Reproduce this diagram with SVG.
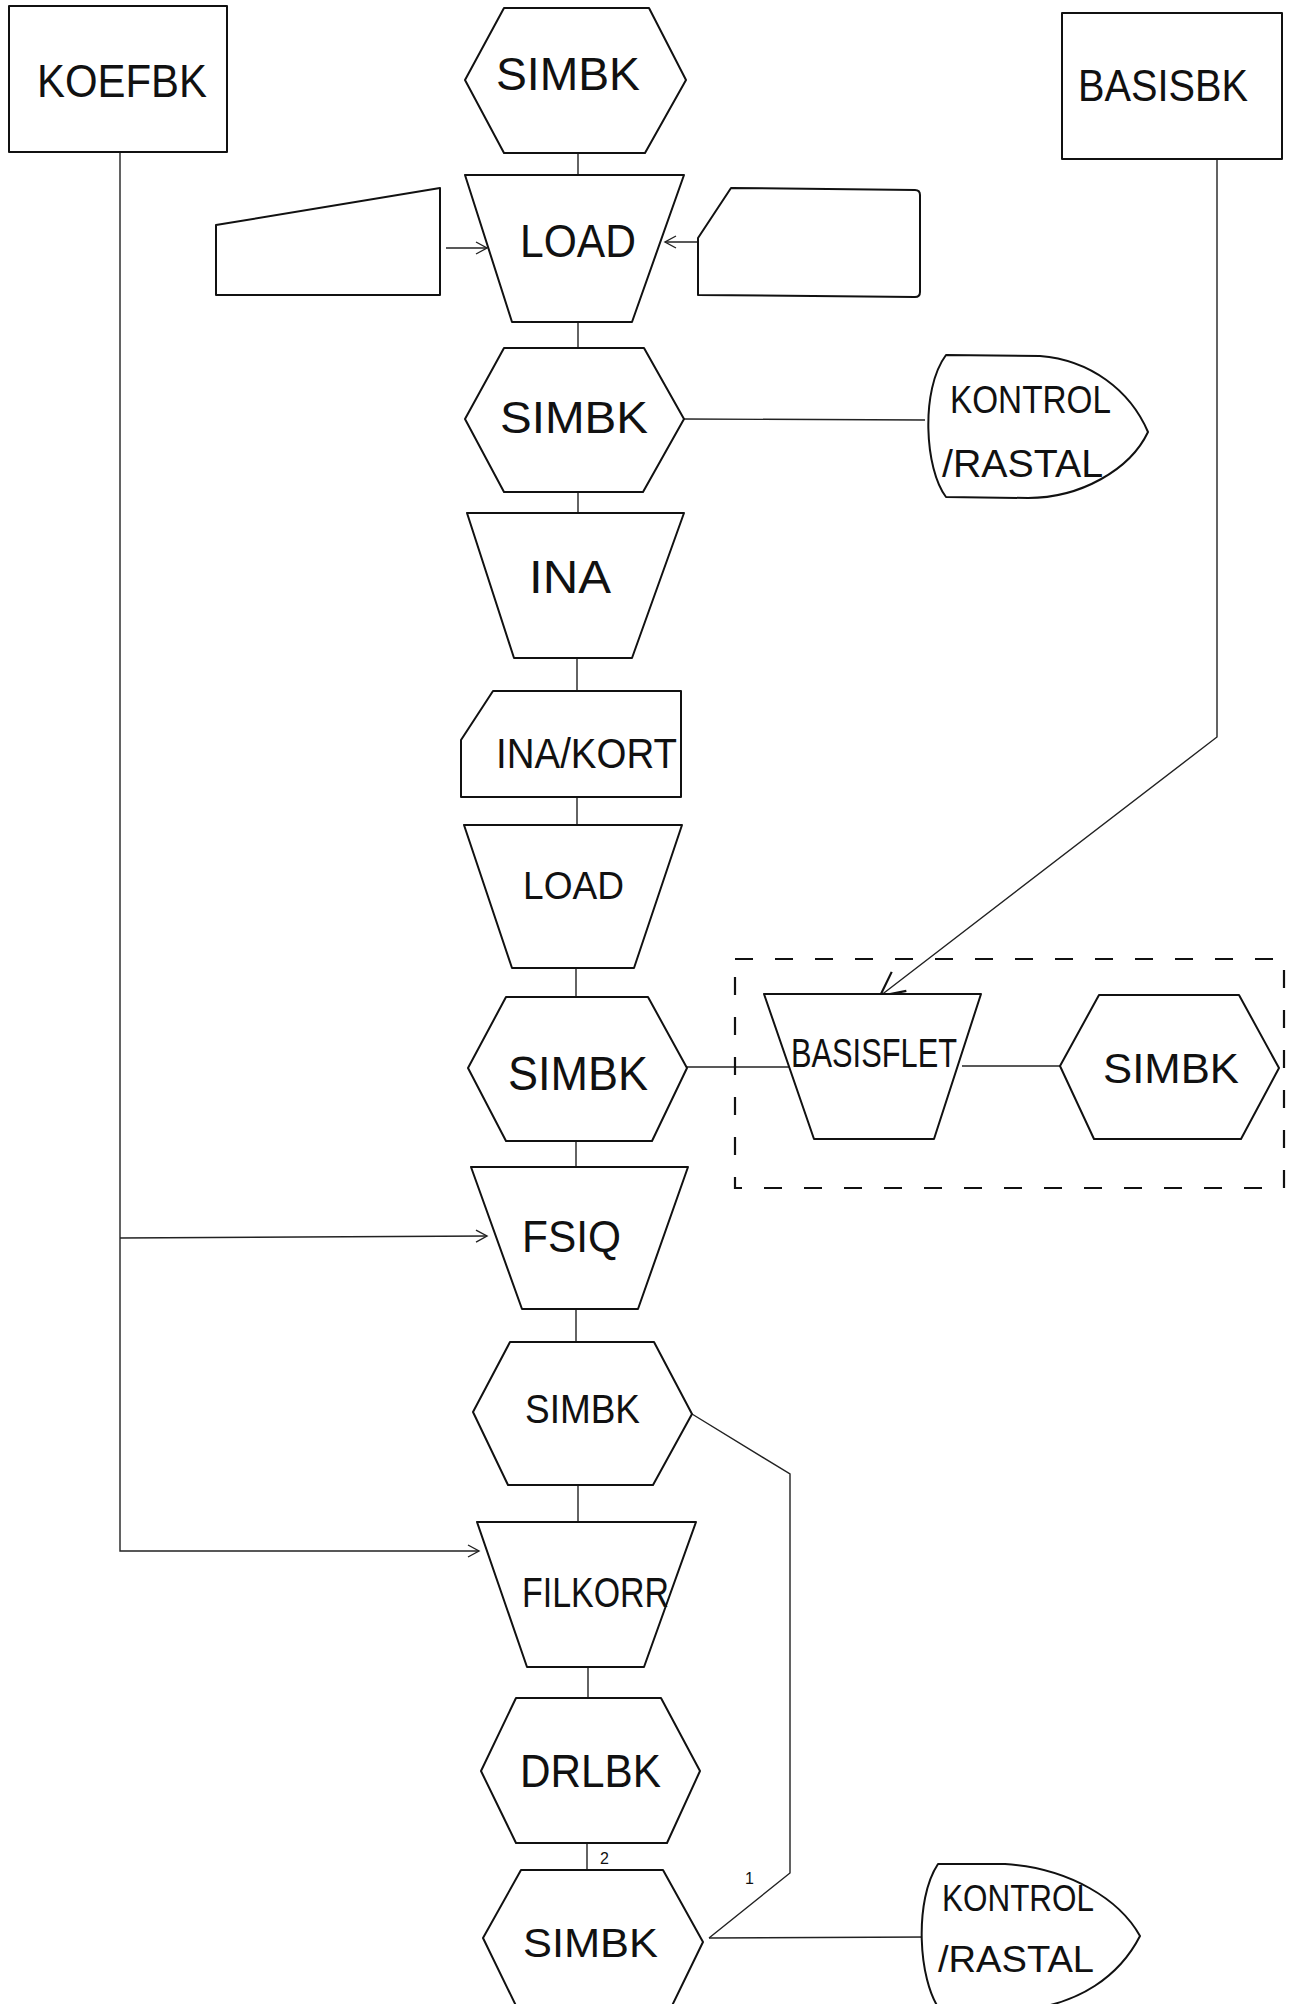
<svg xmlns="http://www.w3.org/2000/svg" width="1289" height="2004" viewBox="0 0 1289 2004">
<style>
.s{fill:#fff;stroke:#111;stroke-width:2;stroke-linejoin:round}
.c{fill:none;stroke:#222;stroke-width:1.4}
.t{font-family:"Liberation Sans","DejaVu Sans",sans-serif;fill:#111;font-weight:normal}
.d{fill:none;stroke:#111;stroke-width:2.2;stroke-dasharray:18 22}
</style>
<defs>
<marker id="a" markerUnits="userSpaceOnUse" markerWidth="14" markerHeight="14" refX="12" refY="7" orient="auto">
<path d="M1,1 L12,7 L1,13" fill="none" stroke="#222" stroke-width="1.4"/>
</marker>
<marker id="b" markerUnits="userSpaceOnUse" markerWidth="30" markerHeight="30" refX="26" refY="15" orient="auto">
<path d="M2,3 L26,15 L2,27" fill="none" stroke="#111" stroke-width="2.2"/>
</marker>
</defs>
<rect width="1289" height="2004" fill="#fff"/>

<g id="connectors">
<line class="c" x1="578" y1="153" x2="578" y2="175"/>
<line class="c" x1="446" y1="248" x2="487" y2="248" marker-end="url(#a)"/>
<line class="c" x1="698" y1="242" x2="665" y2="242" marker-end="url(#a)"/>
<line class="c" x1="578" y1="322" x2="578" y2="348"/>
<line class="c" x1="684" y1="419" x2="925" y2="420"/>
<line class="c" x1="578" y1="492" x2="578" y2="513"/>
<line class="c" x1="577" y1="658" x2="577" y2="691"/>
<line class="c" x1="577" y1="797" x2="577" y2="825"/>
<line class="c" x1="576" y1="968" x2="576" y2="997"/>
<line class="c" x1="687" y1="1067" x2="789" y2="1067"/>
<line class="c" x1="962" y1="1066" x2="1060" y2="1066"/>
<polyline class="c" points="1217,160 1217,737 880,996" marker-end="url(#b)"/>
<line class="c" x1="576" y1="1141" x2="576" y2="1167"/>
<polyline class="c" points="120,152 120,1551 479,1551" marker-end="url(#a)"/>
<line class="c" x1="120" y1="1238" x2="487" y2="1236" marker-end="url(#a)"/>
<line class="c" x1="576" y1="1309" x2="576" y2="1342"/>
<polyline class="c" points="692,1414 790,1474 790,1873 709,1938"/>
<line class="c" x1="578" y1="1485" x2="578" y2="1522"/>
<line class="c" x1="588" y1="1667" x2="588" y2="1698"/>
<line class="c" x1="587" y1="1843" x2="587" y2="1870"/>
<line class="c" x1="709" y1="1938" x2="929" y2="1937"/>
<text class="t" x="600" y="1864" font-size="16">2</text>
<text class="t" x="745" y="1884" font-size="16">1</text>
</g>

<g id="koefbk">
<rect class="s" x="9" y="6" width="218" height="146"/>
<text class="t" x="37" y="97" font-size="46" textLength="170" lengthAdjust="spacingAndGlyphs">KOEFBK</text>
</g>

<g id="basisbk">
<rect class="s" x="1062" y="13" width="220" height="146"/>
<text class="t" x="1078" y="101" font-size="44" textLength="170" lengthAdjust="spacingAndGlyphs">BASISBK</text>
</g>

<g id="simbk1">
<polygon class="s" points="504,8 649,8 686,80 645,153 504,153 465,80"/>
<text class="t" x="496" y="90" font-size="46" textLength="144" lengthAdjust="spacingAndGlyphs">SIMBK</text>
</g>

<g id="load1">
<polygon class="s" points="465,175 684,175 632,322 512,322"/>
<text class="t" x="520" y="257" font-size="46" textLength="116" lengthAdjust="spacingAndGlyphs">LOAD</text>
</g>

<g id="input-left">
<polygon class="s" points="216,225 440,188 440,295 216,295"/>
</g>

<g id="input-right">
<path class="s" d="M731,188 L915,190 Q920,190 920,195 L920,292 Q920,297 915,297 L698,295 L698,238 Z"/>
</g>

<g id="simbk2">
<polygon class="s" points="504,348 644,348 684,419 643,492 504,492 465,419"/>
<text class="t" x="500" y="433" font-size="44" textLength="148" lengthAdjust="spacingAndGlyphs">SIMBK</text>
</g>

<g id="kontrol1">
<path class="s" d="M946,355 L1040,356 C1090,360 1130,390 1148,432 C1130,470 1080,498 1028,498 L946,497 C925,470 920,390 946,355 Z"/>
<text class="t" x="950" y="413" font-size="38" textLength="161" lengthAdjust="spacingAndGlyphs">KONTROL</text>
<text class="t" x="942" y="477" font-size="38" textLength="161" lengthAdjust="spacingAndGlyphs">/RASTAL</text>
</g>

<g id="ina">
<polygon class="s" points="467,513 684,513 632,658 514,658"/>
<text class="t" x="529" y="593" font-size="46" textLength="82" lengthAdjust="spacingAndGlyphs">INA</text>
</g>

<g id="inakort">
<polygon class="s" points="493,691 681,691 681,797 461,797 461,740"/>
<text class="t" x="496" y="768" font-size="42" textLength="181" lengthAdjust="spacingAndGlyphs">INA/KORT</text>
</g>

<g id="load2">
<polygon class="s" points="464,825 682,825 634,968 512,968"/>
<text class="t" x="523" y="899" font-size="38" textLength="101" lengthAdjust="spacingAndGlyphs">LOAD</text>
</g>

<g id="simbk3">
<polygon class="s" points="506,997 648,997 687,1068 652,1141 506,1141 468,1068"/>
<text class="t" x="508" y="1090" font-size="48" textLength="140" lengthAdjust="spacingAndGlyphs">SIMBK</text>
</g>

<g id="group-box">
<rect class="d" x="735" y="959" width="549" height="229"/>
</g>

<g id="basisflet">
<polygon class="s" points="764,994 981,994 934,1139 814,1139"/>
<text class="t" x="791" y="1067" font-size="40" textLength="166" lengthAdjust="spacingAndGlyphs">BASISFLET</text>
</g>

<g id="simbk4">
<polygon class="s" points="1099,995 1239,995 1279,1068 1241,1139 1094,1139 1060,1066"/>
<text class="t" x="1103" y="1083" font-size="42" textLength="136" lengthAdjust="spacingAndGlyphs">SIMBK</text>
</g>

<g id="fsiq">
<polygon class="s" points="471,1167 688,1167 638,1309 522,1309"/>
<text class="t" x="522" y="1252" font-size="44" textLength="99" lengthAdjust="spacingAndGlyphs">FSIQ</text>
</g>

<g id="simbk5">
<polygon class="s" points="510,1342 654,1342 692,1414 653,1485 508,1485 473,1412"/>
<text class="t" x="525" y="1423" font-size="40" textLength="115" lengthAdjust="spacingAndGlyphs">SIMBK</text>
</g>

<g id="filkorr">
<polygon class="s" points="477,1522 696,1522 644,1667 527,1667"/>
<text class="t" x="522" y="1607" font-size="42" textLength="147" lengthAdjust="spacingAndGlyphs">FILKORR</text>
</g>

<g id="drlbk">
<polygon class="s" points="516,1698 661,1698 700,1771 667,1843 516,1843 481,1771"/>
<text class="t" x="520" y="1787" font-size="46" textLength="141" lengthAdjust="spacingAndGlyphs">DRLBK</text>
</g>

<g id="simbk6">
<polygon class="s" points="521,1870 663,1870 703,1942 667,2016 521,2016 483,1938"/>
<text class="t" x="523" y="1957" font-size="40" textLength="135" lengthAdjust="spacingAndGlyphs">SIMBK</text>
</g>

<g id="kontrol2">
<path class="s" d="M938,1864 L1005,1864 C1070,1868 1120,1900 1140,1936 C1120,1975 1080,2005 1020,2010 L940,2010 C918,1980 914,1900 938,1864 Z"/>
<text class="t" x="942" y="1911" font-size="36" textLength="152" lengthAdjust="spacingAndGlyphs">KONTROL</text>
<text class="t" x="938" y="1972" font-size="36" textLength="156" lengthAdjust="spacingAndGlyphs">/RASTAL</text>
</g>
</svg>
